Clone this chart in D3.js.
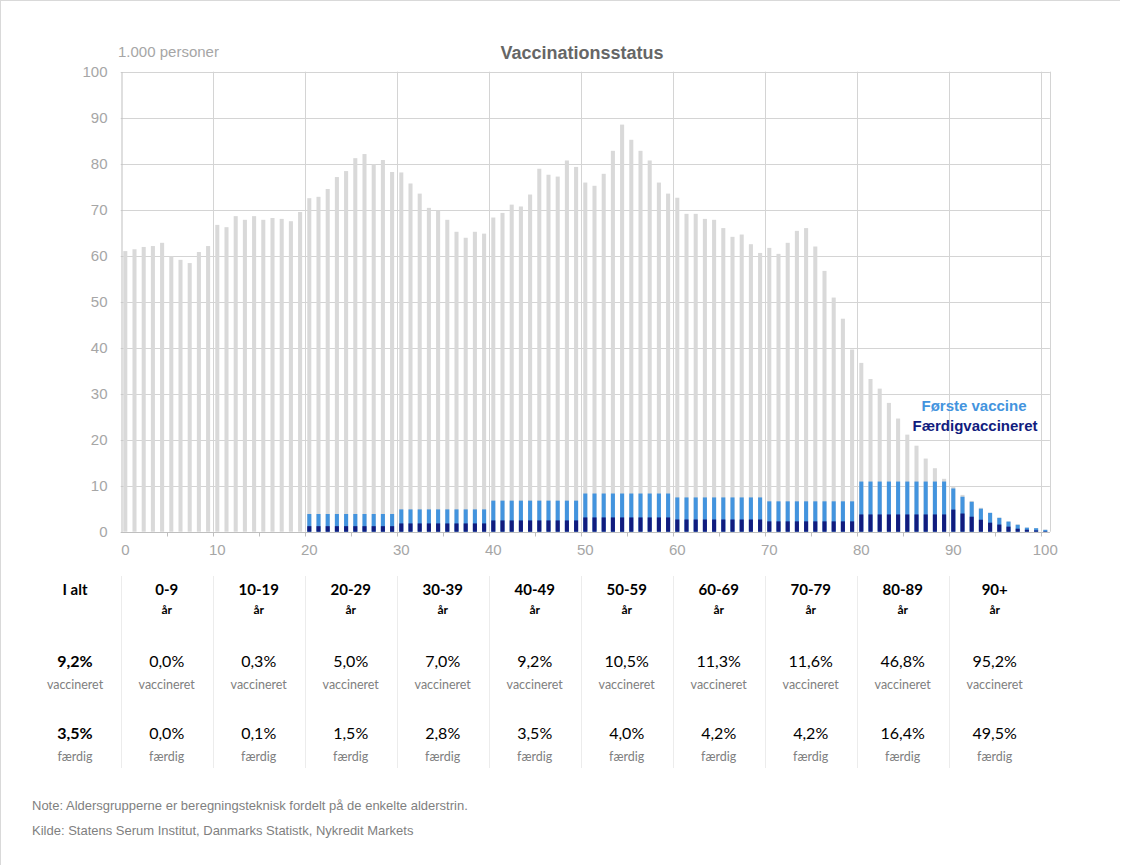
<!DOCTYPE html>
<html>
<head>
<meta charset="utf-8">
<script src="https://cdn.jsdelivr.net/npm/d3@7"></script>
<style>
  body { margin: 0; background: #fff; }
  svg { display: block; }
  .tick-label { font-family: "Liberation Sans", Arial, sans-serif; font-size: 15px; fill: #a6a6a6; }
  .tbl { font-family: Lato, "Open Sans", sans-serif; }
</style>
</head>
<body>
<svg></svg>
<script>
const width = 1122;
const height = 865;

// Ages 0..100 on the category axis
const ages = d3.range(0, 101);

// Population per age, 1.000 persons (grey bars)
const population = [
    61.0, 61.4, 61.9, 62.1, 62.8, 59.9, 59.1, 58.4, 60.8, 62.1,
    66.7, 66.2, 68.6, 67.8, 68.6, 67.8, 68.2, 68.0, 67.5, 69.5,
    72.5, 72.8, 74.5, 77.1, 78.4, 81.2, 82.1, 79.9, 80.8, 78.2,
    78.1, 75.7, 73.5, 70.4, 69.8, 67.8, 65.2, 63.9, 65.2, 64.8,
    68.3, 69.3, 71.1, 70.7, 73.3, 78.9, 77.6, 77.2, 80.7, 79.3,
    75.9, 75.2, 77.8, 82.8, 88.5, 85.2, 82.8, 80.7, 75.9, 73.5,
    72.6, 69.1, 69.1, 68.0, 67.8, 66.0, 64.1, 64.6, 62.5, 60.6,
    61.7, 60.4, 62.8, 65.4, 66.0, 62.0, 56.7, 50.9, 46.3, 39.6,
    36.7, 33.2, 31.1, 28.0, 24.6, 21.1, 18.7, 15.9, 13.8, 11.5,
    9.8, 8.0, 6.7, 5.2, 4.1, 3.1, 2.2, 1.6, 0.9, 0.8, 0.45
];

// Første vaccine per age (light blue)
const firstDose = [
    0, 0, 0, 0, 0, 0, 0, 0, 0, 0,
    0, 0, 0, 0, 0, 0, 0, 0, 0, 0,
    3.85, 3.85, 3.85, 3.85, 3.85, 3.85, 3.85, 3.85, 3.85, 3.85,
    4.85, 4.85, 4.85, 4.85, 4.85, 4.85, 4.85, 4.85, 4.85, 4.85,
    6.75, 6.75, 6.75, 6.75, 6.75, 6.75, 6.75, 6.75, 6.75, 6.75,
    8.3, 8.3, 8.3, 8.3, 8.3, 8.3, 8.3, 8.3, 8.3, 8.3,
    7.45, 7.45, 7.45, 7.45, 7.45, 7.45, 7.45, 7.45, 7.45, 7.45,
    6.6, 6.6, 6.6, 6.6, 6.6, 6.6, 6.6, 6.6, 6.6, 6.6,
    10.9, 10.9, 10.9, 10.9, 10.9, 10.9, 10.9, 10.9, 10.9, 10.9,
    9.4, 7.6, 6.5, 5.0, 4.1, 3.0, 2.2, 1.5, 0.87, 0.75, 0.4
];

// Færdigvaccineret per age (navy)
const fullyVacc = [
    0, 0, 0, 0, 0, 0, 0, 0, 0, 0,
    0, 0, 0, 0, 0, 0, 0, 0, 0, 0,
    1.2, 1.2, 1.2, 1.2, 1.2, 1.2, 1.2, 1.2, 1.2, 1.2,
    1.8, 1.8, 1.8, 1.8, 1.8, 1.8, 1.8, 1.8, 1.8, 1.8,
    2.45, 2.45, 2.45, 2.45, 2.45, 2.45, 2.45, 2.45, 2.45, 2.45,
    3.1, 3.1, 3.1, 3.1, 3.1, 3.1, 3.1, 3.1, 3.1, 3.1,
    2.65, 2.65, 2.65, 2.65, 2.65, 2.65, 2.65, 2.65, 2.65, 2.65,
    2.25, 2.25, 2.25, 2.25, 2.25, 2.25, 2.25, 2.25, 2.25, 2.25,
    3.75, 3.75, 3.75, 3.75, 3.75, 3.75, 3.75, 3.75, 3.75, 3.75,
    4.8, 3.95, 3.26, 2.6, 1.96, 1.55, 1.1, 0.65, 0.43, 0.28, 0.1
];

const yTicks = [0, 10, 20, 30, 40, 50, 60, 70, 80, 90, 100];
const xLabelAges = [0, 10, 20, 30, 40, 50, 60, 70, 80, 90, 100];

// Summary table below the chart
const groups = ["I alt", "0-9", "10-19", "20-29", "30-39", "40-49", "50-59", "60-69", "70-79", "80-89", "90+"];
const vaccPct = ["9,2%", "0,0%", "0,3%", "5,0%", "7,0%", "9,2%", "10,5%", "11,3%", "11,6%", "46,8%", "95,2%"];
const donePct = ["3,5%", "0,0%", "0,1%", "1,5%", "2,8%", "3,5%", "4,0%", "4,2%", "4,2%", "16,4%", "49,5%"];

const colGrey = "#d9d9d9";
const colBlue = "#4394de";
const colNavy = "#111c7e";
const colGrid = "#d4d4d4";

const plot = { left: 120.7, right: 1049.9, top: 71.7, bottom: 531.7 };

const svg = d3.select("svg")
    .attr("width", width)
    .attr("height", height);

// frame lines of the picture (top and left only)
svg.append("line").attr("x1", 0).attr("x2", 1120).attr("y1", 0.5).attr("y2", 0.5)
    .attr("stroke", "#d9d9d9");
svg.append("line").attr("x1", 0.5).attr("x2", 0.5).attr("y1", 0).attr("y2", height)
    .attr("stroke", "#d9d9d9");

const x = d3.scaleBand()
    .domain(ages)
    .range([plot.left, plot.right])
    .paddingInner(0.56)
    .paddingOuter(0.28);

const y = d3.scaleLinear()
    .domain([0, 100])
    .range([plot.bottom, plot.top]);

const catLeft = a => x(a) - x.step() * x.paddingInner() / 2;

// horizontal gridlines
svg.append("g")
    .selectAll("line")
    .data(yTicks.filter(d => d > 0))
    .join("line")
    .attr("x1", plot.left)
    .attr("x2", plot.right)
    .attr("y1", d => Math.round(y(d)) + 0.5)
    .attr("y2", d => Math.round(y(d)) + 0.5)
    .attr("stroke", colGrid);

// vertical gridlines every 10 years, plus right edge
svg.append("g")
    .selectAll("line")
    .data(xLabelAges.filter(d => d > 0))
    .join("line")
    .attr("x1", d => Math.round(catLeft(d)) + 0.5)
    .attr("x2", d => Math.round(catLeft(d)) + 0.5)
    .attr("y1", plot.top)
    .attr("y2", plot.bottom)
    .attr("stroke", colGrid);

svg.append("line")
    .attr("x1", Math.round(plot.right) + 0.5).attr("x2", Math.round(plot.right) + 0.5)
    .attr("y1", plot.top).attr("y2", plot.bottom)
    .attr("stroke", colGrid);

// bars: total, first dose, fully vaccinated
const bars = svg.append("g");
bars.selectAll("rect.pop")
    .data(ages)
    .join("rect")
    .attr("class", "pop")
    .attr("x", d => x(d))
    .attr("width", x.bandwidth())
    .attr("y", d => y(population[d]))
    .attr("height", d => y(0) - y(population[d]))
    .attr("fill", colGrey);

bars.selectAll("rect.first")
    .data(ages.filter(d => firstDose[d] > 0))
    .join("rect")
    .attr("class", "first")
    .attr("x", d => x(d))
    .attr("width", x.bandwidth())
    .attr("y", d => y(firstDose[d]))
    .attr("height", d => y(0) - y(firstDose[d]))
    .attr("fill", colBlue);

bars.selectAll("rect.full")
    .data(ages.filter(d => fullyVacc[d] > 0))
    .join("rect")
    .attr("class", "full")
    .attr("x", d => x(d))
    .attr("width", x.bandwidth())
    .attr("y", d => y(fullyVacc[d]))
    .attr("height", d => y(0) - y(fullyVacc[d]))
    .attr("fill", colNavy);

// y axis
const yAxis = svg.append("g")
    .attr("transform", `translate(${Math.round(plot.left) + 0.5},0)`)
    .call(d3.axisLeft(y).tickValues(yTicks).tickSize(0).tickPadding(14));
yAxis.select(".domain").attr("stroke", "#bfbfbf");
yAxis.selectAll("text").attr("class", "tick-label").attr("font-family", null).attr("font-size", null);

// x axis line with small ticks every 5 years
const xAxis = svg.append("g")
    .attr("transform", `translate(0,${Math.round(plot.bottom) + 0.5})`);
xAxis.append("line")
    .attr("x1", plot.left).attr("x2", plot.right)
    .attr("stroke", "#bfbfbf");
xAxis.selectAll("line.tk")
    .data(ages.filter(d => d % 5 === 0 && d > 0))
    .join("line")
    .attr("class", "tk")
    .attr("x1", d => Math.round(catLeft(d)) + 0.5)
    .attr("x2", d => Math.round(catLeft(d)) + 0.5)
    .attr("y1", 0).attr("y2", 4)
    .attr("stroke", "#bfbfbf");
xAxis.selectAll("text")
    .data(xLabelAges)
    .join("text")
    .attr("class", "tick-label")
    .attr("x", d => x(d) + x.bandwidth() / 2)
    .attr("y", 22)
    .attr("text-anchor", "middle")
    .text(d => d);

// titles
svg.append("text")
    .attr("x", 582).attr("y", 59)
    .attr("text-anchor", "middle")
    .attr("font-family", "Liberation Sans, Arial, sans-serif")
    .attr("font-size", 18).attr("font-weight", "bold")
    .attr("fill", "#666666")
    .text("Vaccinationsstatus");

svg.append("text")
    .attr("x", 118).attr("y", 57)
    .attr("font-family", "Liberation Sans, Arial, sans-serif")
    .attr("font-size", 15)
    .attr("fill", "#a6a6a6")
    .text("1.000 personer");

// legend labels
const legend = svg.append("g")
    .attr("font-family", "Liberation Sans, Arial, sans-serif")
    .attr("font-size", 15).attr("font-weight", "bold")
    .attr("text-anchor", "middle");
legend.append("text").attr("x", 974).attr("y", 411).attr("fill", colBlue).text("Første vaccine");
legend.append("text").attr("x", 975).attr("y", 431).attr("fill", colNavy).text("Færdigvaccineret");

// summary table
const colCenter = i => i === 0 ? 75 : catLeft((i - 1) * 10) + x.step() * 5;
const tbl = svg.append("g").attr("class", "tbl");

tbl.selectAll("line.sep")
    .data(d3.range(1, groups.length))
    .join("line")
    .attr("class", "sep")
    .attr("x1", i => Math.round(catLeft((i - 1) * 10)) + 0.5)
    .attr("x2", i => Math.round(catLeft((i - 1) * 10)) + 0.5)
    .attr("y1", 576).attr("y2", 768)
    .attr("stroke", "#ececec");

const cols = tbl.selectAll("g.col")
    .data(groups)
    .join("g")
    .attr("class", "col")
    .attr("transform", (d, i) => `translate(${colCenter(i)},0)`)
    .attr("text-anchor", "middle");

cols.append("text")
    .attr("y", 595)
    .attr("font-size", 15).attr("font-weight", "bold")
    .attr("fill", "#000")
    .text(d => d);

cols.filter((d, i) => i > 0).append("text")
    .attr("y", 614)
    .attr("font-size", 12).attr("font-weight", "bold")
    .attr("fill", "#000")
    .text("år");

cols.append("text")
    .attr("y", 667)
    .attr("font-size", 16)
    .attr("font-weight", (d, i) => i === 0 ? "bold" : "normal")
    .attr("fill", "#000")
    .text((d, i) => vaccPct[i]);

cols.append("text")
    .attr("y", 689)
    .attr("font-size", 12.5)
    .attr("fill", "#808080")
    .text("vaccineret");

cols.append("text")
    .attr("y", 739)
    .attr("font-size", 16)
    .attr("font-weight", (d, i) => i === 0 ? "bold" : "normal")
    .attr("fill", "#000")
    .text((d, i) => donePct[i]);

cols.append("text")
    .attr("y", 761)
    .attr("font-size", 12.5)
    .attr("fill", "#808080")
    .text("færdig");

// notes
const notes = svg.append("g")
    .attr("font-family", "Liberation Sans, Arial, sans-serif")
    .attr("font-size", 13)
    .attr("fill", "#7f7f7f");
notes.append("text").attr("x", 32).attr("y", 810)
    .text("Note: Aldersgrupperne er beregningsteknisk fordelt på de enkelte alderstrin.");
notes.append("text").attr("x", 32).attr("y", 835)
    .text("Kilde: Statens Serum Institut, Danmarks Statistk, Nykredit Markets");
</script>
</body>
</html>
